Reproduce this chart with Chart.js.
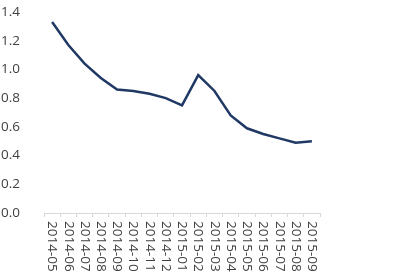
<!DOCTYPE html>
<html>
<head>
<meta charset="utf-8">
<script src="https://cdn.jsdelivr.net/npm/chart.js@4/dist/chart.umd.min.js"></script>
<style>
  html, body { margin: 0; padding: 0; background: #fff; }
  #wrap { width: 407px; height: 278px; }
</style>
</head>
<body>
<div id="wrap"><canvas id="chartCanvas"></canvas></div>
<script>
const months = ['2014-05', '2014-06', '2014-07', '2014-08', '2014-09', '2014-10', '2014-11', '2014-12', '2015-01',
    '2015-02', '2015-03', '2015-04', '2015-05', '2015-06', '2015-07', '2015-08', '2015-09'];
const values = [1.33, 1.17, 1.04, 0.94, 0.86, 0.85, 0.83, 0.80, 0.75, 0.96, 0.85, 0.68, 0.59, 0.55, 0.52, 0.49, 0.50];
const yTicks = [0, 0.2, 0.4, 0.6, 0.8, 1.0, 1.2, 1.4];

const fontFamily = "'Open Sans', 'Liberation Sans', sans-serif";

// draws the x labels turned clockwise (reading top to bottom)
const downLabels = {
    id: 'downLabels',
    afterDraw(chart) {
        const x = chart.scales.x;
        const ctx = chart.ctx;
        ctx.save();
        ctx.font = '13.5px ' + fontFamily;
        ctx.fillStyle = '#404040';
        ctx.textAlign = 'left';
        ctx.textBaseline = 'middle';
        months.forEach((m, i) => {
            ctx.save();
            ctx.translate(x.getPixelForValue(i), x.top + 8);
            ctx.rotate(Math.PI / 2);
            ctx.fillText(m, 0, 0);
            ctx.restore();
        });
        ctx.restore();
    }
};

const ctx = document.getElementById('chartCanvas').getContext('2d');
new Chart(ctx, {
    type: 'line',
    data: {
        labels: months,
        datasets: [{
            data: values,
            borderColor: '#1f3864',
            borderWidth: 2.5,
            pointRadius: 0,
            tension: 0,
            fill: false
        }]
    },
    options: {
        responsive: true,
        maintainAspectRatio: false,
        animation: false,
        layout: { padding: { top: 12, right: 87, left: 0, bottom: 0 } },
        plugins: { legend: { display: false }, tooltip: { enabled: false } },
        scales: {
            x: {
                offset: true,
                grid: { display: true, offset: true, drawOnChartArea: false, color: '#d9d9d9', tickLength: 4 },
                border: { color: '#d9d9d9' },
                ticks: { display: false },
                afterFit(scale) { scale.height = 65; }
            },
            y: {
                min: 0,
                max: 1.4,
                grid: { display: false },
                border: { display: false },
                afterBuildTicks(scale) { scale.ticks = yTicks.map(v => ({ value: v })); },
                afterFit(scale) {
                    scale.width = 44;
                    scale.paddingTop = 0;
                    scale.paddingBottom = 0;
                },
                ticks: {
                    color: '#404040',
                    font: { size: 13.5, family: fontFamily },
                    padding: 16,
                    callback: v => v.toFixed(1)
                }
            }
        }
    },
    plugins: [downLabels]
});
</script>
</body>
</html>
